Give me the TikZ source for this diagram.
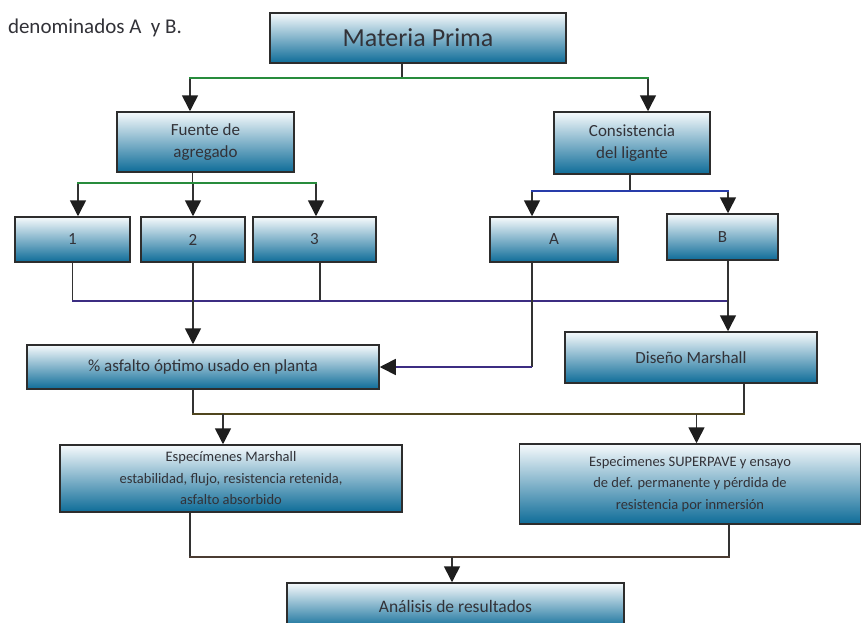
\documentclass[tikz,border=0pt]{standalone}
\usepackage{fontspec}
\setmainfont{Carlito}
\usetikzlibrary{arrows.meta}
\definecolor{boxtop}{RGB}{246,250,252}
\definecolor{boxmid}{RGB}{172,212,228}
\definecolor{boxbot}{RGB}{14,108,152}
\definecolor{boxline}{RGB}{45,45,45}
\definecolor{boxtext}{RGB}{50,50,56}
\definecolor{wiregray}{RGB}{50,50,50}
\definecolor{tipcol}{RGB}{30,30,30}
\definecolor{busgreen}{RGB}{40,140,60}
\definecolor{busblue}{RGB}{40,60,170}
\definecolor{buspurple}{RGB}{60,45,130}
\definecolor{busolive}{RGB}{80,70,30}
\definecolor{busbrown}{RGB}{75,60,50}
\tikzset{
  flowbox/.style={draw=boxline, line width=1.5pt, top color=boxtop, middle color=boxmid, bottom color=boxbot,
    text=boxtext, align=center, inner sep=0pt, font=\fontsize{17}{22}\selectfont},
  smallbox/.style={flowbox, font=\fontsize{14.5}{21.5}\selectfont},
  wire/.style={draw=wiregray, line width=1.6pt},
  bus/.style={line width=1.8pt, line cap=rect},
  tip/.style={wire, -{Triangle[width=16pt,length=16pt,color=tipcol]}},
}
\begin{document}
\begin{tikzpicture}[x=1pt,y=-1pt]
  \path[use as bounding box, fill=white] (0,0) rectangle (863,622);
  \node[text=boxtext, font=\fontsize{21}{24}\selectfont] (caption) at (95,28) {denominados A\ \ y B.};
  % boxes
  \node[flowbox, minimum width=296pt, minimum height=50pt, font=\fontsize{26}{30}\selectfont] (mp) at (418,38) {Materia Prima};
  \node[flowbox, minimum width=177pt, minimum height=60pt] (fuente) at (205.5,142) {Fuente de\\agregado};
  \node[flowbox, minimum width=156pt, minimum height=62pt] (cons) at (632,143) {Consistencia\\del ligante};
  \node[flowbox, minimum width=115pt, minimum height=45pt] (b1) at (72.5,239.5) {1};
  \node[flowbox, minimum width=104pt, minimum height=45pt] (b2) at (193,239.5) {2};
  \node[flowbox, minimum width=123pt, minimum height=45pt] (b3) at (314.5,239.5) {3};
  \node[flowbox, minimum width=128pt, minimum height=45pt] (bA) at (554,239.5) {A};
  \node[flowbox, minimum width=111pt, minimum height=46pt] (bB) at (722.5,237) {B};
  \node[flowbox, minimum width=352pt, minimum height=44pt] (pct) at (203,367) {\% asfalto óptimo usado en planta};
  \node[flowbox, minimum width=252pt, minimum height=51pt] (dis) at (691,357.5) {Diseño Marshall};
  \node[smallbox, minimum width=342pt, minimum height=67pt] (espm) at (231,478.5) {Especímenes Marshall\\estabilidad, flujo, resistencia retenida,\\asfalto absorbido};
  \node[smallbox, minimum width=341pt, minimum height=80pt] (espsp) at (690,484) {Especimenes SUPERPAVE y ensayo\\de def. permanente y pérdida de\\resistencia por inmersión};
  \node[flowbox, minimum width=337pt, minimum height=46pt, font=\fontsize{17.5}{22}\selectfont] (anal) at (455.5,606) {Análisis de resultados};
  % ports and bus levels
  \coordinate (mpOut) at ([xshift=-16pt]mp.south);
  \coordinate (fuIn) at ([xshift=-15.5pt]fuente.north);
  \coordinate (coIn) at ([xshift=16pt]cons.north);
  \coordinate (fuOut) at ([xshift=-13pt]fuente.south);
  \coordinate (coOut) at ([xshift=-2pt]cons.south);
  \coordinate (b1In) at ([xshift=5.5pt]b1.north);
  \coordinate (b3In) at ([xshift=1.5pt]b3.north);
  \coordinate (b3Out) at ([xshift=5.5pt]b3.south);
  \coordinate (aPort) at ([xshift=-22pt]bA.north);
  \coordinate (bPort) at ([xshift=5.5pt]bB.north);
  \coordinate (disOut) at ([xshift=53pt]dis.south);
  \coordinate (emIn) at ([xshift=-8pt]espm.north);
  \coordinate (esIn) at ([xshift=6.5pt]espsp.north);
  \coordinate (emOut) at ([xshift=-41pt]espm.south);
  \coordinate (esOut) at ([xshift=39pt]espsp.south);
  \coordinate (anIn) at ([xshift=-3.5pt]anal.north);
  \coordinate (busTop) at (0,78);
  \coordinate (busFu) at (0,183);
  \coordinate (busCo) at (0,191);
  \coordinate (busLink) at (0,301);
  \coordinate (busMid) at (0,414);
  \coordinate (busLow) at (0,557);
  % Materia Prima
  \draw[wire] (mpOut) -- (mpOut |- busTop);
  \draw[tip] (fuIn |- busTop) -- (fuIn);
  \draw[tip] (coIn |- busTop) -- (coIn);
  \draw[bus, draw=busgreen] (fuIn |- busTop) -- (coIn |- busTop);
  % Fuente de agregado
  \draw[wire] (fuOut) -- (fuOut |- busFu);
  \draw[tip] (b1In |- busFu) -- (b1In);
  \draw[tip] (b2.north |- busFu) -- (b2.north);
  \draw[tip] (b3In |- busFu) -- (b3In);
  \draw[bus, draw=busgreen] (b1In |- busFu) -- (b3In |- busFu);
  % Consistencia del ligante
  \draw[wire] (coOut) -- (coOut |- busCo);
  \draw[tip] (aPort |- busCo) -- (aPort);
  \draw[tip] (bPort |- busCo) -- (bPort);
  \draw[bus, draw=busblue] (aPort |- busCo) -- (bPort |- busCo);
  % 1, 3 y B hacia Diseño Marshall
  \draw[wire] (b1.south) -- (b1.south |- busLink);
  \draw[wire] (b3Out) -- (b3Out |- busLink);
  \draw[bus, draw=buspurple] (b1.south |- busLink) -- (bPort |- busLink);
  \draw[tip] (bPort |- bB.south) -- (bPort |- dis.north);
  % 2 y A hacia % asfalto
  \draw[tip] (b2.south) -- (b2.south |- pct.north);
  \draw[wire] (aPort |- bA.south) -- (aPort |- pct.east);
  \draw[tip, draw=buspurple] (aPort |- pct.east) -- (pct.east);
  % especimenes
  \draw[wire] (pct.south -| b2) -- (b2 |- busMid);
  \draw[wire] (disOut) -- (disOut |- busMid);
  \draw[bus, draw=busolive] (b2 |- busMid) -- (disOut |- busMid);
  \draw[tip] (emIn |- busMid) -- (emIn);
  \draw[tip] (esIn |- busMid) -- (esIn);
  % analisis
  \draw[wire] (emOut) -- (emOut |- busLow);
  \draw[wire] (esOut) -- (esOut |- busLow);
  \draw[bus, draw=busbrown] (emOut |- busLow) -- (esOut |- busLow);
  \draw[tip] (anIn |- busLow) -- (anIn);
\end{tikzpicture}
\end{document}
